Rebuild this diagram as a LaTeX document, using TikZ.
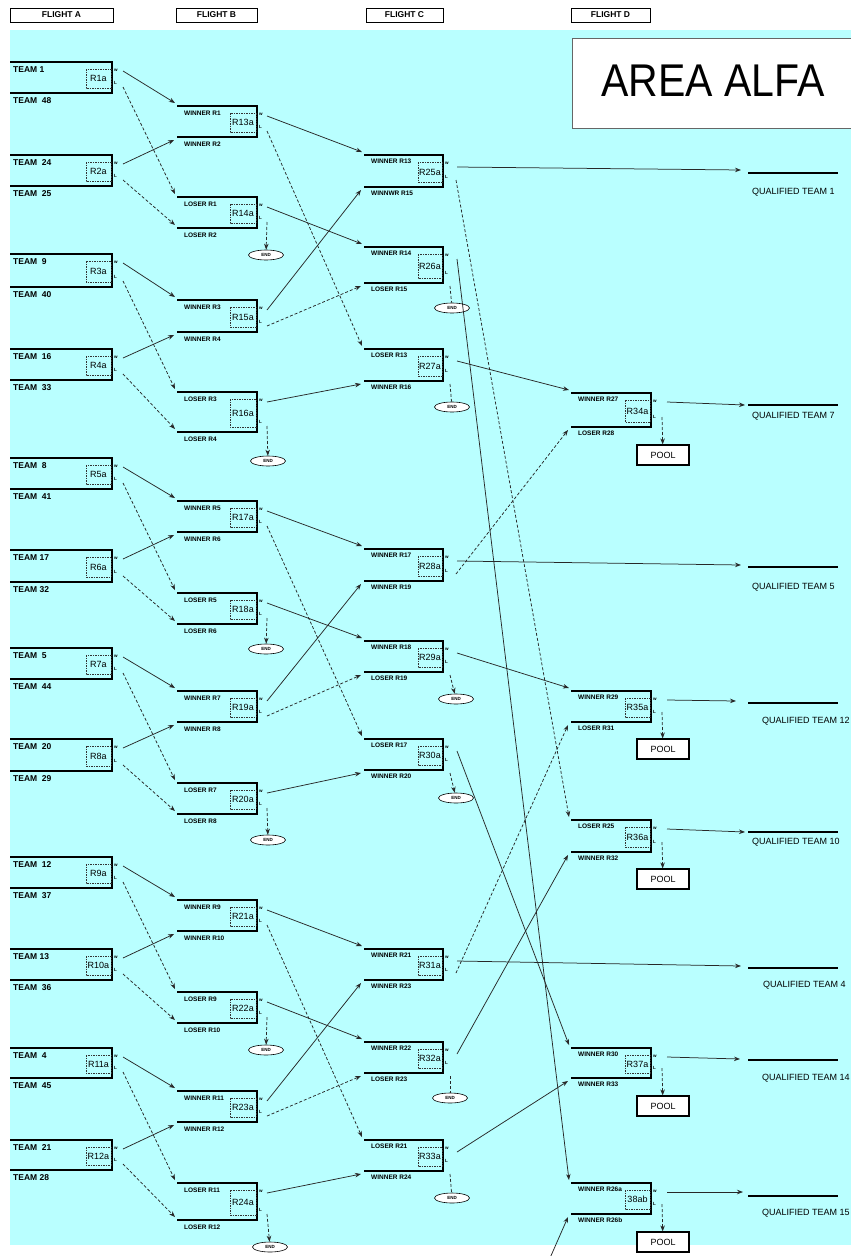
\documentclass[tikz,border=0pt]{standalone}
\usepackage{fontspec}
\setmainfont{Liberation Sans}
\usetikzlibrary{arrows.meta,shapes.geometric}
\definecolor{bgcyan}{RGB}{185,255,255}
\definecolor{lnk}{RGB}{40,40,40}

\newcommand\setcol[9]{\def\cxa{#1}\def\cxb{#2}\def\cxd{#3}\def\cxt{#4}\def\cwx{#5}\def\cwy{#6}\def\clx{#7}\def\cly{#8}\def\cty{#9}}

\newcommand\mymatch[6]{%
 \draw[boxline] (\cxa,#2) -- (\cxb,#2) -- (\cxb,#3) -- (\cxa,#3);
 \draw[dashbox] (\cxd,{#2+7}) rectangle ({\cxb-1},{#3-5});
 \node[rlab] (#1) at ({(\cxd+\cxb-1)/2},{(#2+#3+2)/2}) {#4};
 \node[coltext] (#1-t) at (\cxt,{#2+\cty}) {#5};
 \node[coltext] (#1-b) at (\cxt,{#3+\cty}) {#6};
 \node[wl] (#1-wl) at ({\cxb+2},{#2+8}) {w};
 \node[wl] (#1-ll) at ({\cxb+2},{#3-10}) {L};
 \coordinate (#1-w) at ({\cxb+\cwx},{#2+\cwy});
 \coordinate (#1-L) at ({\cxb+\clx},{#3-\cly});
 \coordinate (#1-E) at ({\cxb+7},{#3+3});
 \coordinate (#1-i1) at ({\cxa-2},{#2-3});
 \coordinate (#1-i2) at ({\cxa-2},{#3-3});
 \coordinate (#1-i3) at ({\cxa-3},{#3+3});
}

\newcommand\qual[8]{%
 \coordinate (#1a) at (#3,#4);
 \coordinate (#1b) at (748,#5);
 \coordinate (#1c) at (838,#5);
 \draw[conn] (#2-w) -- (#1a);
 \draw[qline] (#1b) -- (#1c);
 \node[qtext] (#1t) at (#6,#7) {#8};
}

\begin{document}
\begin{tikzpicture}[x=1pt,y=-1pt,
 boxline/.style={line width=1.8pt, line join=miter},
 dashbox/.style={line width=0.6pt, dash pattern=on 1.5pt off 1pt, draw=black!80},
 rlab/.style={inner sep=0pt, font=\fontsize{9}{10}\selectfont},
 wl/.style={anchor=west, inner sep=0pt, font=\fontsize{4.5}{5}\selectfont\bfseries},
 conn/.style={draw=lnk, line width=0.75pt, -{Stealth[length=6pt,width=4.5pt]}},
 dconn/.style={conn, dash pattern=on 3pt off 2pt},
 dline/.style={draw=lnk, line width=0.75pt, dash pattern=on 3pt off 2pt},
 qline/.style={line width=1.6pt},
 qtext/.style={anchor=west, inner sep=0pt, font=\fontsize{9}{10}\selectfont},
 endn/.style={ellipse, draw, fill=white, line width=0.6pt, minimum width=35pt, minimum height=10pt, inner sep=0pt, font=\fontsize{4.5}{5}\selectfont\bfseries},
 pooln/.style={draw, line width=1.2pt, fill=white, minimum width=52pt, minimum height=20pt, inner sep=0pt, font=\fontsize{9}{10}\selectfont},
 hdr/.style={draw, line width=1pt, minimum height=14pt, inner sep=0pt, font=\fontsize{8.5}{10}\selectfont\bfseries},
 coltext/.style={anchor=west, inner sep=0pt, font=\fontsize{8.5}{10}\selectfont\bfseries}
]
\useasboundingbox (0,0) rectangle (851,1256);
\fill[bgcyan] (10,30) rectangle (851,1245);

% headers
\node[hdr, minimum width=103pt] (hA) at (61.5,15) {FLIGHT A};
\node[hdr, minimum width=81pt] (hB) at (216.5,15) {FLIGHT B};
\node[hdr, minimum width=77pt] (hC) at (404.5,15) {FLIGHT C};
\node[hdr, minimum width=79pt] (hD) at (610.5,15) {FLIGHT D};

% area box
\draw[draw=black!60, line width=0.8pt, fill=white] (572,38) rectangle (860,128);
\node[inner sep=0pt, font=\fontsize{41}{44}\selectfont] (area) at (713,81) {\scalebox{1}[1.12]{AREA ALFA}};

% FLIGHT A
\setcol{10}{112}{86}{13}{11}{9}{11}{6}{8}
\mymatch{R1}{62}{93}{R1a}{TEAM 1}{TEAM\ \ 48}
\mymatch{R2}{155}{186}{R2a}{TEAM\ \ 24}{TEAM\ \ 25}
\mymatch{R3}{254}{287}{R3a}{TEAM\ \ 9}{TEAM\ \ 40}
\mymatch{R4}{349}{380}{R4a}{TEAM\ \ 16}{TEAM\ \ 33}
\mymatch{R5}{458}{489}{R5a}{TEAM\ \ 8}{TEAM\ \ 41}
\mymatch{R6}{550}{582}{R6a}{TEAM 17}{TEAM 32}
\mymatch{R7}{648}{679}{R7a}{TEAM\ \ 5}{TEAM\ \ 44}
\mymatch{R8}{739}{771}{R8a}{TEAM\ \ 20}{TEAM\ \ 29}
\mymatch{R9}{857}{888}{R9a}{TEAM\ \ 12}{TEAM\ \ 37}
\mymatch{R10}{949}{980}{R10a}{TEAM 13}{TEAM\ \ 36}
\mymatch{R11}{1048}{1078}{R11a}{TEAM\ \ 4}{TEAM\ \ 45}
\mymatch{R12}{1140}{1170}{R12a}{TEAM\ \ 21}{TEAM 28}

% FLIGHT B
\tikzset{coltext/.style={anchor=west, inner sep=0pt, font=\fontsize{6.5}{7}\selectfont\bfseries}}
\setcol{177}{257}{230}{184}{10}{10}{10}{6}{7}
\mymatch{R13}{106}{137}{R13a}{WINNER R1}{WINNER R2}
\mymatch{R14}{197}{228}{R14a}{LOSER R1}{LOSER R2}
\mymatch{R15}{300}{332}{R15a}{WINNER R3}{WINNER R4}
\mymatch{R16}{392}{432}{R16a}{LOSER R3}{LOSER R4}
\mymatch{R17}{501}{532}{R17a}{WINNER R5}{WINNER R6}
\mymatch{R18}{593}{624}{R18a}{LOSER R5}{LOSER R6}
\mymatch{R19}{691}{722}{R19a}{WINNER R7}{WINNER R8}
\mymatch{R20}{783}{814}{R20a}{LOSER R7}{LOSER R8}
\mymatch{R21}{900}{931}{R21a}{WINNER R9}{WINNER R10}
\mymatch{R22}{992}{1023}{R22a}{LOSER R9}{LOSER R10}
\mymatch{R23}{1091}{1122}{R23a}{WINNER R11}{WINNER R12}
\mymatch{R24}{1183}{1220}{R24a}{LOSER R11}{LOSER R12}

% FLIGHT C
\setcol{364}{443}{418}{371}{14}{12}{13}{7}{6}
\mymatch{R25}{155}{187}{R25a}{WINNER R13}{WINNWR R15}
\mymatch{R26}{247}{283}{R26a}{WINNER R14}{LOSER R15}
\mymatch{R27}{349}{381}{R27a}{LOSER R13}{WINNER R16}
\mymatch{R28}{549}{581}{R28a}{WINNER R17}{WINNER R19}
\mymatch{R29}{641}{672}{R29a}{WINNER R18}{LOSER R19}
\mymatch{R30}{739}{770}{R30a}{LOSER R17}{WINNER R20}
\mymatch{R31}{949}{980}{R31a}{WINNER R21}{WINNER R23}
\mymatch{R32}{1042}{1073}{R32a}{WINNER R22}{LOSER R23}
\mymatch{R33}{1140}{1171}{R33a}{LOSER R21}{WINNER R24}

% FLIGHT D
\setcol{571}{651}{625}{578}{16}{9}{11}{10}{6}
\mymatch{R34}{393}{427}{R34a}{WINNER R27}{LOSER R28}
\mymatch{R35}{691}{722}{R35a}{WINNER R29}{LOSER R31}
\mymatch{R36}{820}{852}{R36a}{LOSER R25}{WINNER R32}
\mymatch{R37}{1048}{1078}{R37a}{WINNER R30}{WINNER R33}
\mymatch{R38}{1183}{1214}{38ab}{WINNER R26a}{WINNER R26b}

% END nodes
\node[endn] (E14) at (266,255) {END};
\node[endn] (E16) at (268,461) {END};
\node[endn] (E18) at (266,649) {END};
\node[endn] (E20) at (268,840) {END};
\node[endn] (E22) at (266,1050) {END};
\node[endn] (E24) at (270,1247) {END};
\node[endn] (E26) at (452,308) {END};
\node[endn] (E27) at (452,407) {END};
\node[endn] (E29) at (456,699) {END};
\node[endn] (E30) at (456,798) {END};
\node[endn] (E32) at (450,1098) {END};
\node[endn] (E33) at (452,1198) {END};

% POOL nodes
\node[pooln] (P34) at (663,455) {POOL};
\node[pooln] (P35) at (663,749) {POOL};
\node[pooln] (P36) at (663,879) {POOL};
\node[pooln] (P37) at (663,1106) {POOL};
\node[pooln] (P38) at (663,1242) {POOL};

% A -> B
\foreach \a/\b/\c/\d in {1/2/13/14,3/4/15/16,5/6/17/18,7/8/19/20,9/10/21/22,11/12/23/24}{
 \draw[conn] (R\a-w) -- (R\c-i1);
 \draw[dconn] (R\a-L) -- (R\d-i1);
 \draw[conn] (R\b-w) -- (R\c-i3);
 \draw[dconn] (R\b-L) -- (R\d-i2);
}

% B -> C
\foreach \ma/\mb/\mc/\md/\na/\nb/\nc in {13/14/15/16/25/26/27,17/18/19/20/28/29/30,21/22/23/24/31/32/33}{
 \draw[conn] (R\ma-w) -- (R\na-i1);
 \draw[dconn] (R\ma-L) -- (R\nc-i1);
 \draw[conn] (R\mb-w) -- (R\nb-i1);
 \draw[dconn] (R\mb-L) -- (E\mb);
 \draw[conn] (R\mc-w) -- (R\na-i3);
 \draw[dconn] (R\mc-L) -- (R\nb-i3);
 \draw[conn] (R\md-w) -- (R\nc-i3);
 \draw[dconn] (R\md-L) -- (E\md);
}

% C -> D
\coordinate (out26b) at (550,1258);
\draw[dconn] (R25-L) -- (R36-i1);
\draw[conn] (R26-w) -- (R38-i1);
\draw[dline] (R26-E) -- (E26);
\draw[conn] (R27-w) -- (R34-i1);
\draw[dline] (R27-E) -- (E27);
\draw[dconn] (R28-L) -- (R34-i3);
\draw[conn] (R29-w) -- (R35-i1);
\draw[dconn] (R29-E) -- (E29);
\draw[conn] (R30-w) -- (R37-i1);
\draw[dconn] (R30-E) -- (E30);
\draw[dconn] (R31-L) -- (R35-i3);
\draw[conn] (R32-w) -- (R36-i3);
\draw[dline] (R32-E) -- (E32);
\draw[conn] (R33-w) -- (R37-i3);
\draw[dline] (R33-E) -- (E33);
\draw[conn] (out26b) -- (R38-i3);

% D -> POOL
\foreach \m in {34,35,36,37,38}{
 \draw[dconn] (R\m-L) -- (P\m);
}

% qualified
\qual{Q1}{R25}{741}{170}{173}{752}{192}{QUALIFIED TEAM 1}
\qual{Q7}{R34}{745}{405}{405}{752}{416}{QUALIFIED TEAM 7}
\qual{Q5}{R28}{741}{565}{567}{752}{587}{QUALIFIED TEAM 5}
\qual{Q12}{R35}{736}{701}{703}{762}{721}{QUALIFIED TEAM 12}
\qual{Q10}{R36}{745}{832}{832}{752}{842}{QUALIFIED TEAM 10}
\qual{Q4}{R31}{741}{966}{968}{763}{985}{QUALIFIED TEAM 4}
\qual{Q14}{R37}{740}{1059}{1060}{762}{1078}{QUALIFIED TEAM 14}
\qual{Q15}{R38}{743}{1192}{1196}{762}{1213}{QUALIFIED TEAM 15}
\end{tikzpicture}
\end{document}
